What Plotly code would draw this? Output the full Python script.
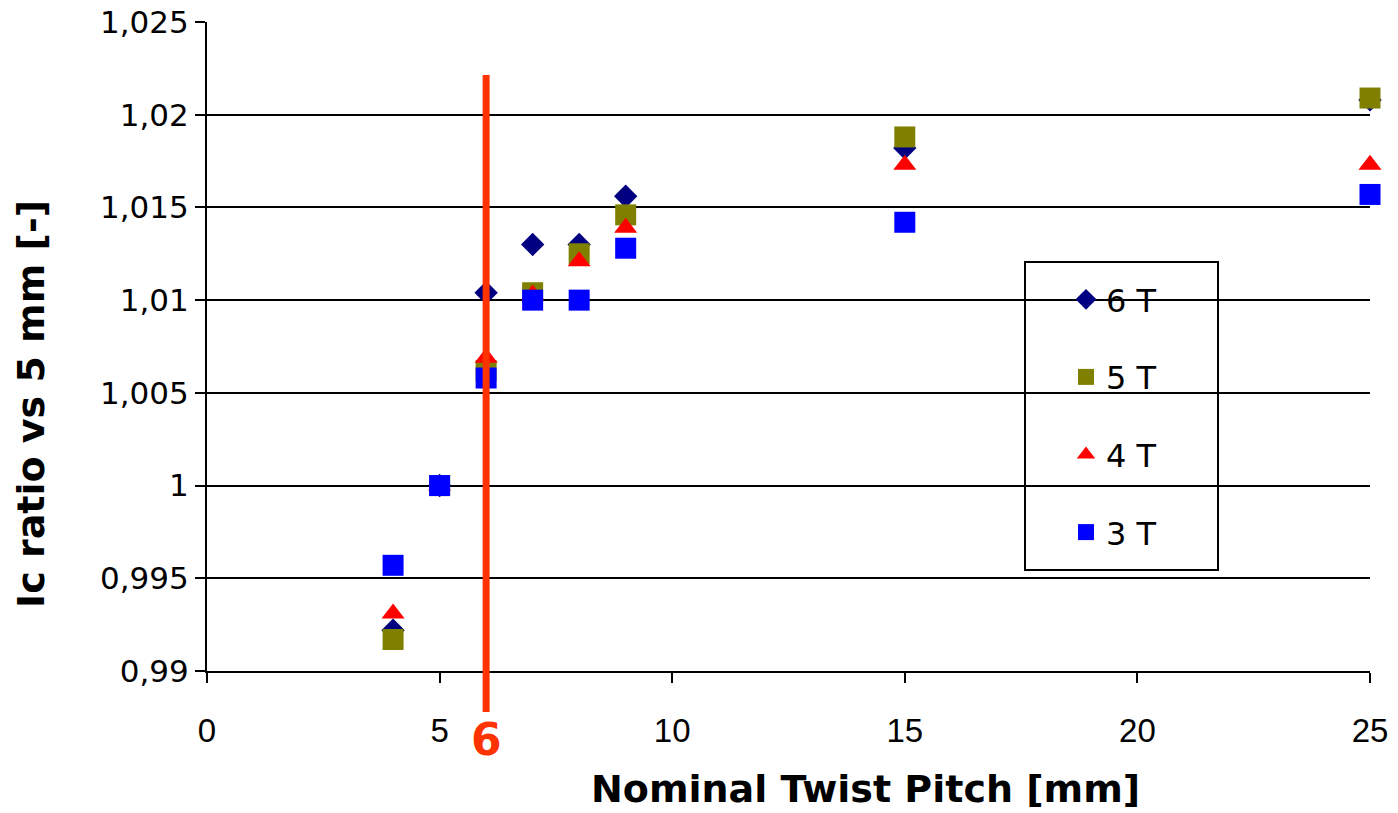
import plotly.graph_objects as go

pitch = [4, 5, 6, 7, 8, 9, 15, 25]
ratio_6T = [0.9922, 1.0000, 1.0104, 1.0130, 1.0130, 1.0156, 1.0182, 1.0208]
ratio_5T = [0.9917, 1.0000, 1.0062, 1.0104, 1.0125, 1.0146, 1.0188, 1.0209]
ratio_4T = [0.9931, 1.0000, 1.0069, 1.0103, 1.0121, 1.0139, 1.0173, 1.0173]
ratio_3T = [0.9957, 1.0000, 1.0058, 1.0100, 1.0100, 1.0128, 1.0142, 1.0157]

series_names = ["6 T", "5 T", "4 T", "3 T"]
series_values = [ratio_6T, ratio_5T, ratio_4T, ratio_3T]
series_colors = ["#000080", "#808000", "#FF0000", "#0000FF"]
series_symbols = ["diamond", "square", "triangle-up", "square"]
series_sizes = [18, 21, 20, 21]

y_tick_vals = [0.99, 0.995, 1.0, 1.005, 1.01, 1.015, 1.02, 1.025]
y_tick_text = ["0,99", "0,995", "1", "1,005", "1,01", "1,015", "1,02", "1,025"]
x_tick_vals = [0, 5, 10, 15, 20, 25]

x_title = "Nominal Twist Pitch [mm]"
y_title = "Ic ratio vs 5 mm [-]"

chosen_pitch = 6
chosen_label = "6"
line_color = "#FF3300"

# body margin removed via post_script; plot area at x 207..1370, y 22..671
L, R, T, B = 207, 28, 22, 142
W, H = 1398, 813
PW, PH = W - L - R, H - T - B


def px_x(sx):
    return (sx - L) / PW


def px_y(sy):
    return (H - B - sy) / PH


fig = go.Figure()
for name, vals, col, sym, sz in zip(series_names, series_values, series_colors,
                                    series_symbols, series_sizes):
    fig.add_trace(go.Scatter(
        x=pitch, y=vals, mode="markers", name=name, legendgroup=name,
        cliponaxis=False,
        marker=dict(symbol=sym, size=sz, color=col, line=dict(width=0)),
    ))

# legend frame
fig.add_shape(type="rect", xref="paper", yref="paper",
              x0=px_x(1025), x1=px_x(1218), y0=px_y(570), y1=px_y(262),
              line=dict(color="black", width=2), fillcolor="white",
              layer="between")

fig.add_shape(type="line", xref="x", yref="paper",
              x0=chosen_pitch, x1=chosen_pitch, y0=px_y(712), y1=px_y(75),
              line=dict(color=line_color, width=7), layer="above")
fig.add_annotation(x=chosen_pitch, xref="x", y=px_y(739), yref="paper",
                   yanchor="middle", xanchor="center",
                   text="<b>" + chosen_label + "</b>", showarrow=False,
                   font=dict(family="DejaVu Sans", size=44, color=line_color))

# axis titles (offset from plot centre as in the reference)
fig.add_annotation(x=px_x(865), y=px_y(789), xref="paper", yref="paper",
                   xanchor="center", yanchor="middle", showarrow=False,
                   text="<b>" + x_title + "</b>",
                   font=dict(family="DejaVu Sans", size=38, color="black"))
fig.add_annotation(x=px_x(31), y=px_y(404), xref="paper", yref="paper",
                   xanchor="center", yanchor="middle", showarrow=False,
                   textangle=-90, text="<b>" + y_title + "</b>",
                   font=dict(family="DejaVu Sans", size=38, color="black"))

fig.update_layout(
    width=W, height=H,
    margin=dict(l=L, r=R, t=T, b=B),
    paper_bgcolor="white", plot_bgcolor="white",
    font=dict(family="DejaVu Sans", color="black"),
    showlegend=True,
    legend=dict(
        x=px_x(1066), y=px_y(272), xanchor="left", yanchor="top",
        borderwidth=0, bgcolor="rgba(0,0,0,0)",
        font=dict(family="DejaVu Sans", size=32, color="black"),
        tracegroupgap=33, traceorder="grouped",
    ),
)
fig.update_xaxes(
    range=[0, 25], tickvals=x_tick_vals, showgrid=False, zeroline=False,
    showline=True, linecolor="black", linewidth=2, automargin=False,
    ticks="outside", ticklen=10, tickwidth=2, tickcolor="black",
    ticklabelstandoff=19, ticklabeloverflow="allow",
    tickfont=dict(family="Liberation Sans Narrow, Liberation Sans", size=33, color="black"),
)
fig.update_yaxes(
    range=[0.99, 1.025], tickvals=y_tick_vals, ticktext=y_tick_text,
    showgrid=True, gridcolor="black", gridwidth=2, zeroline=False,
    showline=True, linecolor="black", linewidth=2, automargin=False,
    ticks="outside", ticklen=10, tickwidth=2, tickcolor="black",
    ticklabeloverflow="allow",
    tickfont=dict(family="DejaVu Sans", size=31, color="black"),
)

fig.write_html("out.html", config={"displayModeBar": False},
               post_script="document.body.style.margin='0';document.body.style.overflow='hidden';")
